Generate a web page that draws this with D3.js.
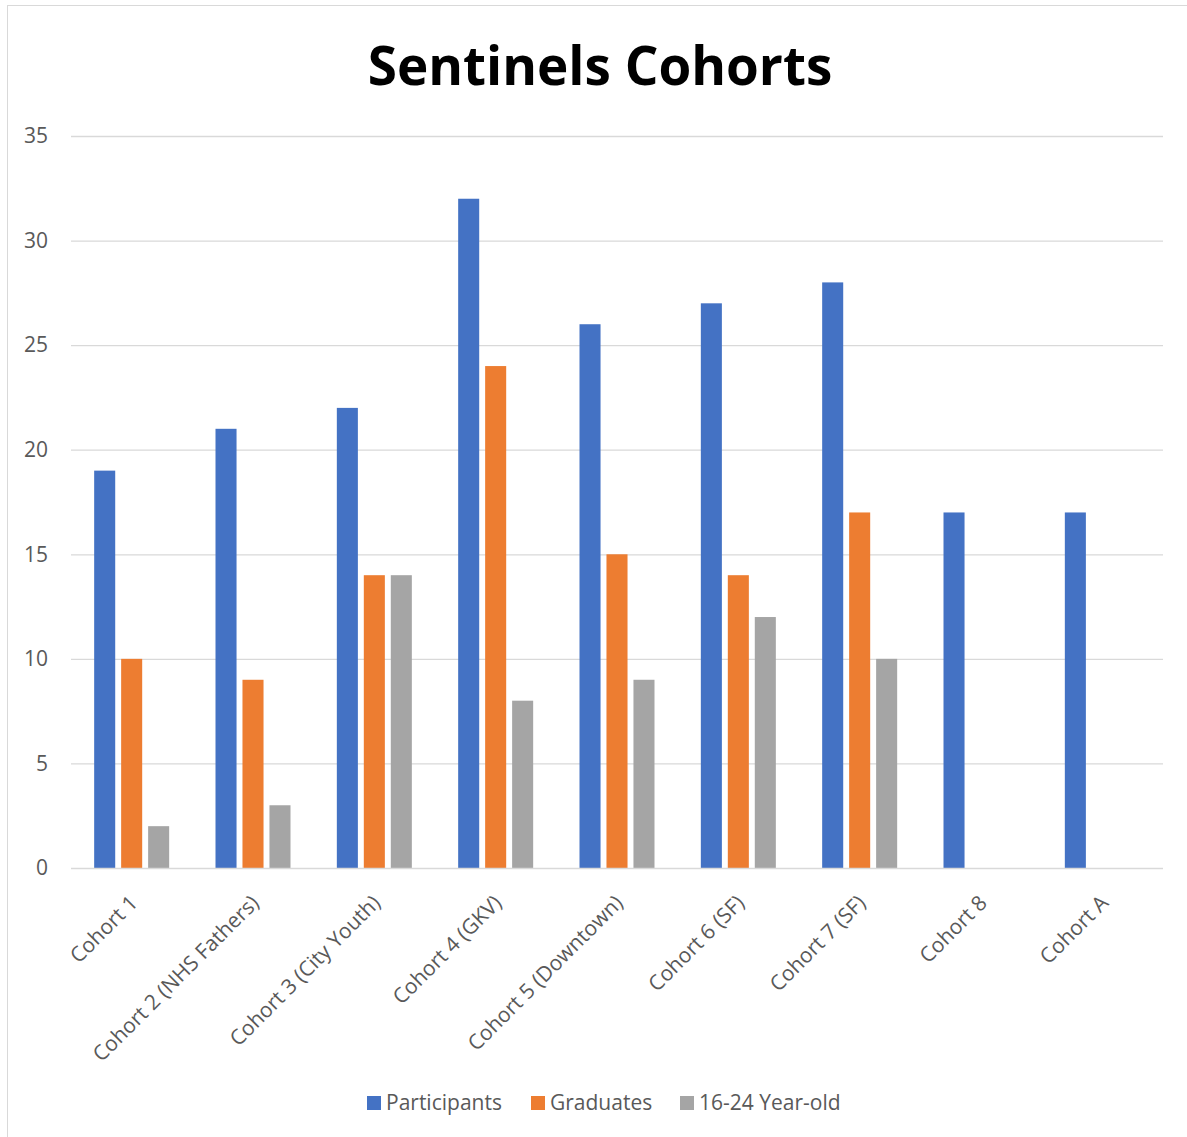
<!DOCTYPE html>
<html>
<head>
<meta charset="utf-8">
<script src="https://cdn.jsdelivr.net/npm/d3@7"></script>
<style>
  body { margin: 0; background: #fff; }
  svg { display: block; font-family: "Open Sans", "Noto Sans", sans-serif; }
</style>
</head>
<body>
<svg id="chart" width="1187" height="1137"></svg>
<script>
const categories = ["Cohort 1", "Cohort 2 (NHS Fathers)", "Cohort 3 (City Youth)", "Cohort 4 (GKV)",
    "Cohort 5 (Downtown)", "Cohort 6 (SF)", "Cohort 7 (SF)", "Cohort 8", "Cohort A"];
const seriesNames = ["Participants", "Graduates", "16-24 Year-old"];
const participants = [19, 21, 22, 32, 26, 27, 28, 17, 17];
const graduates = [10, 9, 14, 24, 15, 14, 17, null, null];
const youth = [2, 3, 14, 8, 9, 12, 10, null, null];
const yTicks = [0, 5, 10, 15, 20, 25, 30, 35];
const colors = ["#4472c4", "#ed7d31", "#a5a5a5"];

const series = [participants, graduates, youth];
const svg = d3.select('#chart');

const plot = { left: 71, right: 1163, top: 136, bottom: 868 };

// chart border
svg.append('rect')
    .attr('x', 7.5).attr('y', 5.5)
    .attr('width', 1200).attr('height', 1200)
    .attr('fill', 'none')
    .attr('stroke', '#d9d9d9')
    .attr('stroke-width', 1);

const x0 = d3.scaleBand()
    .domain(categories)
    .range([plot.left, plot.right]);

const x1 = d3.scaleBand()
    .domain(seriesNames)
    .range([-37.5, 37.5])
    .paddingInner(0.22);

const y = d3.scaleLinear()
    .domain([0, 35])
    .range([plot.bottom, plot.top]);

// gridlines
svg.append('g')
    .selectAll('line')
    .data(yTicks.filter(d => d > 0))
    .join('line')
    .attr('x1', plot.left).attr('x2', plot.right)
    .attr('y1', d => y(d) + 0.5).attr('y2', d => y(d) + 0.5)
    .attr('stroke', '#d9d9d9')
    .attr('stroke-width', 1.3);

// y tick labels
svg.append('g')
    .selectAll('text')
    .data(yTicks)
    .join('text')
    .attr('x', 48)
    .attr('y', d => y(d))
    .attr('dy', '0.35em')
    .attr('text-anchor', 'end')
    .attr('fill', '#595959')
    .attr('font-size', 21)
    .text(d => d);

// bars
const groups = svg.append('g')
    .selectAll('g')
    .data(categories)
    .join('g')
    .attr('transform', d => `translate(${x0(d) + x0.bandwidth() / 2},0)`);

groups.selectAll('rect')
    .data((d, i) => seriesNames.map((s, j) => ({ s, j, v: series[j][i] })).filter(e => e.v != null))
    .join('rect')
    .attr('x', d => x1(d.s))
    .attr('width', x1.bandwidth())
    .attr('y', d => y(d.v))
    .attr('height', d => y(0) - y(d.v))
    .attr('fill', d => colors[d.j]);

// baseline
svg.append('line')
    .attr('x1', plot.left).attr('x2', plot.right)
    .attr('y1', plot.bottom + 0.5).attr('y2', plot.bottom + 0.5)
    .attr('stroke', '#d9d9d9')
    .attr('stroke-width', 1.5);

// category labels
svg.append('g')
    .selectAll('text')
    .data(categories)
    .join('text')
    .attr('transform', d => `translate(${x0(d) + x0.bandwidth() / 2 + 2},${plot.bottom + 31}) rotate(-45)`)
    .attr('text-anchor', 'end')
    .attr('dy', '0.35em')
    .attr('fill', '#595959')
    .attr('font-size', 21)
    .text(d => d);

// title
svg.append('text')
    .attr('x', 600)
    .attr('y', 85)
    .attr('text-anchor', 'middle')
    .attr('font-size', 53)
    .attr('font-weight', 700)
    .attr('fill', '#000')
    .text('Sentinels Cohorts');

// legend
const legendX = [367, 531, 680];
const legend = svg.append('g')
    .selectAll('g')
    .data(seriesNames)
    .join('g')
    .attr('transform', (d, i) => `translate(${legendX[i]},1096)`);

legend.append('rect')
    .attr('width', 14).attr('height', 14)
    .attr('fill', (d, i) => colors[i]);

legend.append('text')
    .attr('x', 19).attr('y', 7)
    .attr('dy', '0.35em')
    .attr('fill', '#595959')
    .attr('font-size', 21)
    .text(d => d);
</script>
</body>
</html>
